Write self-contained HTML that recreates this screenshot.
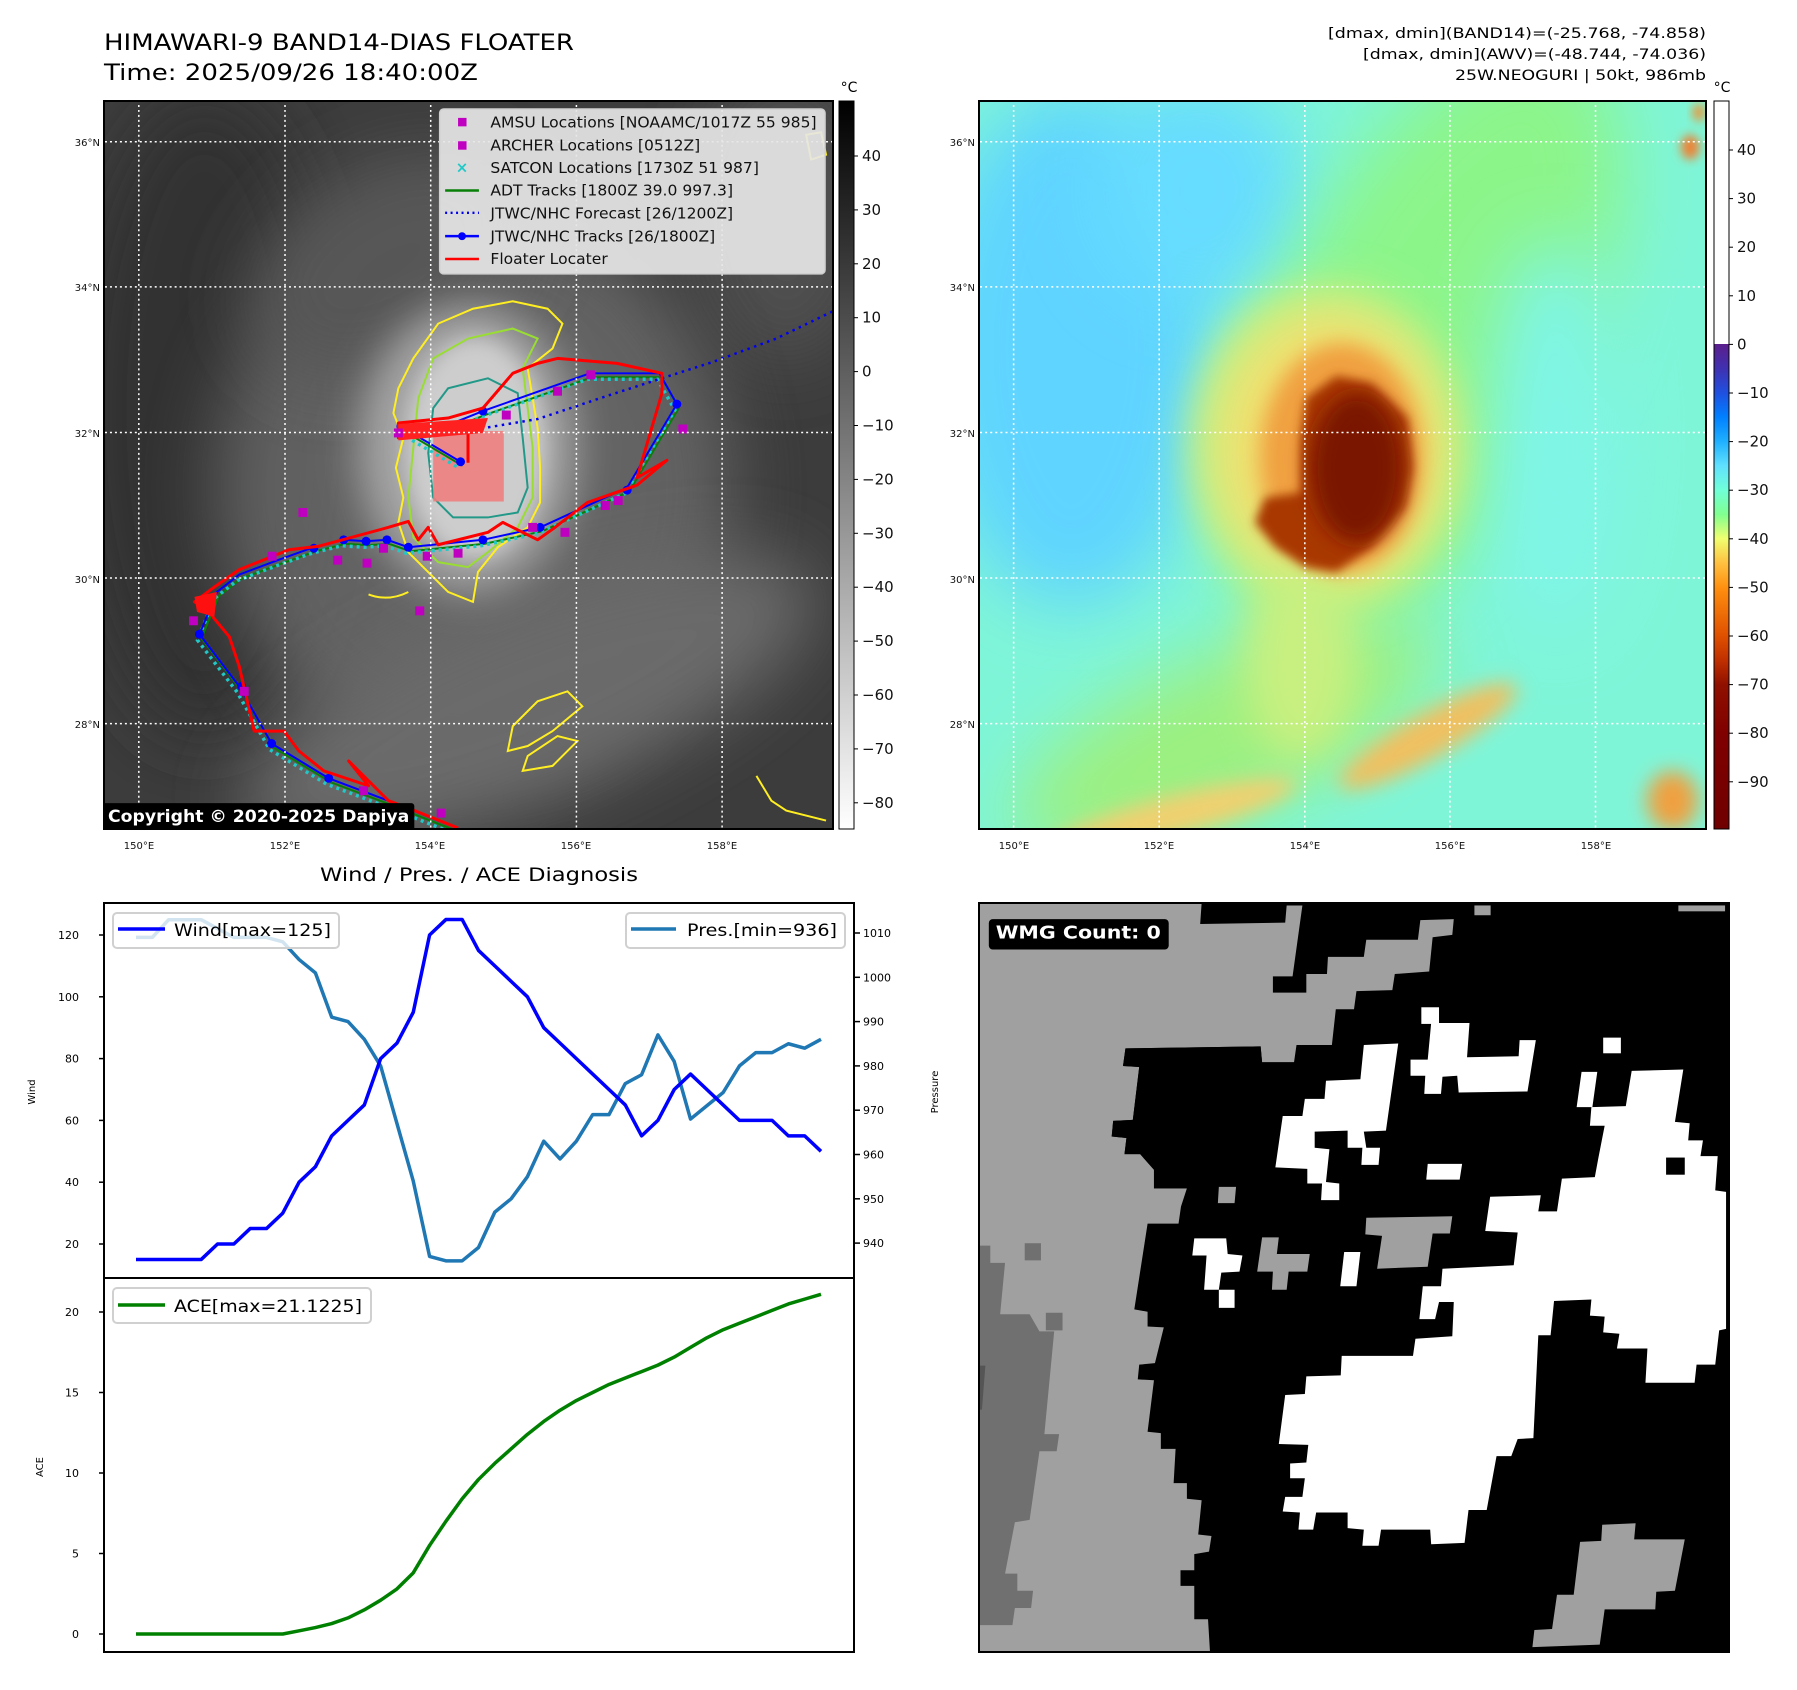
<!DOCTYPE html>
<html><head><meta charset="utf-8">
<style>
html,body{margin:0;padding:0;background:#fff;}
svg{display:block;font-family:"DejaVu Sans","Liberation Sans",sans-serif;}
</style></head>
<body>
<svg id="root" width="1797" height="1690" viewBox="0 0 1797 1690" xmlns="http://www.w3.org/2000/svg">
<defs>
  <filter id="b20" x="-50%" y="-50%" width="200%" height="200%"><feGaussianBlur stdDeviation="20"/></filter>
  <filter id="b40" x="-50%" y="-50%" width="200%" height="200%"><feGaussianBlur stdDeviation="40"/></filter>
  <filter id="b70" x="-50%" y="-50%" width="200%" height="200%"><feGaussianBlur stdDeviation="70"/></filter>
  <filter id="b10" x="-50%" y="-50%" width="200%" height="200%"><feGaussianBlur stdDeviation="10"/></filter>
  <linearGradient id="gcb" x1="0" y1="0" x2="0" y2="1">
    <stop offset="0" stop-color="#000"/><stop offset="1" stop-color="#fff"/>
  </linearGradient>
  <linearGradient id="jcb" x1="0" y1="0" x2="0" y2="1">
    <stop offset="0" stop-color="#fff"/><stop offset="0.334" stop-color="#fff"/>
    <stop offset="0.334" stop-color="#5b1f8c"/><stop offset="0.367" stop-color="#4030b0"/>
    <stop offset="0.401" stop-color="#2050e0"/><stop offset="0.434" stop-color="#0080ff"/>
    <stop offset="0.468" stop-color="#20b0ff"/><stop offset="0.501" stop-color="#60e0ff"/>
    <stop offset="0.534" stop-color="#70ffd8"/><stop offset="0.568" stop-color="#80ff90"/>
    <stop offset="0.601" stop-color="#f0ff70"/><stop offset="0.635" stop-color="#ffc040"/>
    <stop offset="0.668" stop-color="#ff9010"/><stop offset="0.735" stop-color="#e05000"/>
    <stop offset="0.768" stop-color="#c03000"/><stop offset="0.802" stop-color="#901000"/>
    <stop offset="0.868" stop-color="#800000"/><stop offset="1" stop-color="#700000"/>
  </linearGradient>
</defs>

<!-- Titles -->
<text x="104" y="50" font-size="22" textLength="470" lengthAdjust="spacingAndGlyphs">HIMAWARI-9 BAND14-DIAS FLOATER</text>
<text x="104" y="80" font-size="22" textLength="374" lengthAdjust="spacingAndGlyphs">Time: 2025/09/26 18:40:00Z</text>
<text x="1706" y="38" font-size="14" text-anchor="end" textLength="378" lengthAdjust="spacingAndGlyphs">[dmax, dmin](BAND14)=(-25.768, -74.858)</text>
<text x="1706" y="59" font-size="14" text-anchor="end" textLength="343" lengthAdjust="spacingAndGlyphs">[dmax, dmin](AWV)=(-48.744, -74.036)</text>
<text x="1706" y="80" font-size="14" text-anchor="end" textLength="251" lengthAdjust="spacingAndGlyphs">25W.NEOGURI | 50kt, 986mb</text>

<!-- LEFT MAP -->
<svg x="104" y="101" width="729" height="728" viewBox="28 22 1466 1465" preserveAspectRatio="none">
  <rect x="0" y="0" width="1600" height="1600" fill="#3c3c3c"/>
  <ellipse cx="230" cy="650" rx="260" ry="650" fill="#303030" filter="url(#b70)"/>
  <ellipse cx="1400" cy="250" rx="180" ry="300" fill="#505050" filter="url(#b70)"/>
  <ellipse cx="770" cy="800" rx="520" ry="560" fill="#707070" opacity="0.75" filter="url(#b70)"/>
  <ellipse cx="880" cy="1230" rx="620" ry="200" transform="rotate(-22 880 1230)" fill="#6a6a6a" filter="url(#b70)"/>
  <ellipse cx="600" cy="350" rx="300" ry="200" transform="rotate(-30 600 350)" fill="#575757" filter="url(#b70)"/>
  <ellipse cx="760" cy="720" rx="220" ry="290" fill="#a4a4a4" filter="url(#b40)"/>
  <ellipse cx="775" cy="720" rx="140" ry="220" fill="#cdcdcd" filter="url(#b20)"/>
  <!-- contours -->
  <path d="M620,600 L650,540 L700,470 L770,440 L850,425 L920,440 L950,470 L930,520 L880,560 L890,620 L900,680 L905,760 L905,830 L880,880 L820,920 L780,970 L770,1030 L720,1010 L690,980 L640,930 L620,870 L630,820 L615,760 L630,700 L610,650 Z" fill="none" stroke="#ffee22" stroke-width="4"/>
  <path d="M660,620 L690,540 L760,500 L850,480 L900,500 L870,560 L880,640 L890,720 L890,820 L860,880 L800,930 L760,960 L700,950 L650,900 L640,820 L650,720 Z" fill="none" stroke="#99dd33" stroke-width="4"/>
  <path d="M690,640 L720,600 L800,580 L860,610 L870,700 L880,800 L860,850 L800,860 L730,860 L690,820 L680,730 Z" fill="none" stroke="#229988" stroke-width="4"/>
  <g fill="none" stroke="#ffee22" stroke-width="4">
    <path d="M560,1015 Q600,1030 640,1010"/>
    <path d="M850,1280 L900,1230 L960,1210 L990,1240 L930,1290 L880,1320 L840,1330 Z"/>
    <path d="M880,1340 L940,1300 L980,1310 L930,1360 L870,1370 Z"/>
    <path d="M1340,1380 L1370,1430 L1400,1450 L1480,1470"/>
    <path d="M1440,90 L1470,85 L1480,130 L1450,140 Z"/>
  </g>
  <rect x="690" y="686" width="142" height="142" fill="#f08080" opacity="0.9"/>
  <!-- tracks -->
  <polyline points="740,1485 700,1470 600,1430 480,1385 365,1315 300,1200 220,1095 255,1010 300,975 380,945 450,920 510,905 555,908 597,905 640,920 790,905 905,880 1080,800 1180,632 1145,570 1005,570 790,646 715,676 625,677 745,748" fill="none" stroke="#088008" stroke-width="4" transform="translate(4,8)"/>
  <polyline points="740,1485 700,1470 600,1430 480,1385 365,1315 300,1200 220,1095 255,1010 300,975 380,945 450,920 510,905 555,908 597,905 640,920 790,905 905,880 1080,800 1180,632 1145,570 1005,570 790,646 715,676 625,677 745,748" fill="none" stroke="#20c8c8" stroke-width="7" stroke-dasharray="6 8" transform="translate(-4,12)"/>
  <polyline points="745,688 900,662 1050,612 1250,548 1380,500 1494,445" fill="none" stroke="#0000ee" stroke-width="5" stroke-dasharray="5 9"/>
  <polyline points="740,1485 700,1470 600,1430 480,1385 365,1315 300,1200 220,1095 255,1010 300,975 380,945 450,920 510,905 555,908 597,905 640,920 790,905 905,880 1080,800 1180,632 1145,570 1005,570 790,646 715,676 625,677 745,748" fill="none" stroke="#0000ff" stroke-width="4"/>
  <g fill="#0000ff">
    <circle cx="480" cy="1385" r="9"/><circle cx="365" cy="1315" r="9"/><circle cx="305" cy="1200" r="9"/><circle cx="220" cy="1095" r="9"/>
    <circle cx="450" cy="922" r="9"/><circle cx="510" cy="905" r="9"/><circle cx="555" cy="908" r="9"/><circle cx="597" cy="905" r="9"/>
    <circle cx="640" cy="920" r="9"/><circle cx="790" cy="905" r="9"/><circle cx="905" cy="880" r="9"/><circle cx="1080" cy="805" r="9"/>
    <circle cx="1180" cy="632" r="9"/><circle cx="1007" cy="573" r="9"/><circle cx="790" cy="646" r="9"/><circle cx="715" cy="676" r="9"/>
    <circle cx="625" cy="677" r="9"/><circle cx="745" cy="748" r="9"/>
  </g>
  <polyline points="740,1485 640,1445 600,1430 520,1350 560,1400 470,1370 420,1330 390,1290 330,1290 300,1160 280,1100 230,1040 210,1030 250,1000 300,965 400,925 460,918 600,880 640,868 660,905 680,880 700,915 800,890 830,870 900,905 935,880 1000,830 1100,795 1160,745 1100,780 1150,610 1150,570 1060,550 940,540 900,550 850,570 790,640 720,660 620,670 620,700 760,680 760,750" fill="none" stroke="#ff0000" stroke-width="6" stroke-linejoin="round"/>
  <path d="M620,672 L800,660 L790,690 L620,705 Z" fill="#ff2020"/>
  <path d="M210,1020 L255,1010 L250,1060 L215,1050 Z" fill="#ff1010"/>
  <g fill="#c000c0">
    <rect x="419" y="841" width="18" height="18"/><rect x="357" y="929" width="18" height="18"/><rect x="489" y="937" width="18" height="18"/>
    <rect x="548" y="943" width="18" height="18"/><rect x="669" y="929" width="18" height="18"/><rect x="731" y="923" width="18" height="18"/>
    <rect x="654" y="1039" width="18" height="18"/><rect x="199" y="1059" width="18" height="18"/><rect x="828" y="645" width="18" height="18"/>
    <rect x="931" y="597" width="18" height="18"/><rect x="998" y="564" width="18" height="18"/><rect x="1027" y="827" width="18" height="18"/>
    <rect x="1053" y="817" width="18" height="18"/><rect x="1183" y="673" width="18" height="18"/><rect x="611" y="681" width="18" height="18"/>
    <rect x="881" y="871" width="18" height="18"/><rect x="946" y="881" width="18" height="18"/><rect x="301" y="1201" width="18" height="18"/>
    <rect x="541" y="1401" width="18" height="18"/><rect x="697" y="1446" width="18" height="18"/><rect x="581" y="913" width="18" height="18"/>
  </g>
  <!-- grid -->
  <g stroke="#fff" stroke-width="3" stroke-dasharray="4 6">
    <line x1="98" y1="0" x2="98" y2="1600"/><line x1="392" y1="0" x2="392" y2="1600"/><line x1="685" y1="0" x2="685" y2="1600"/>
    <line x1="978" y1="0" x2="978" y2="1600"/><line x1="1271" y1="0" x2="1271" y2="1600"/>
    <line x1="0" y1="104" x2="1600" y2="104"/><line x1="0" y1="396" x2="1600" y2="396"/><line x1="0" y1="689" x2="1600" y2="689"/>
    <line x1="0" y1="982" x2="1600" y2="982"/><line x1="0" y1="1275" x2="1600" y2="1275"/>
  </g>
  <!-- legend -->
  <g>
    <rect x="703" y="38" width="775" height="332" rx="8" fill="#e6e6e6" fill-opacity="0.92" stroke="#cfcfcf" stroke-width="3"/>
    <rect x="740" y="56" width="17" height="17" fill="#c000c0"/>
    <rect x="740" y="103" width="17" height="17" fill="#c000c0"/>
    <text x="748" y="166" font-size="30" fill="#20c8c8" text-anchor="middle" font-weight="bold">×</text>
    <line x1="714" y1="202" x2="782" y2="202" stroke="#088008" stroke-width="5"/>
    <line x1="714" y1="247" x2="782" y2="247" stroke="#0000ee" stroke-width="5" stroke-dasharray="4 7"/>
    <line x1="714" y1="294" x2="782" y2="294" stroke="#0000ff" stroke-width="5"/><circle cx="748" cy="294" r="8" fill="#0000ff"/>
    <line x1="714" y1="340" x2="782" y2="340" stroke="#ff0000" stroke-width="5"/>
    <g font-size="30" fill="#111">
      <text x="805" y="75" textLength="656" lengthAdjust="spacingAndGlyphs">AMSU Locations [NOAAMC/1017Z 55 985]</text>
      <text x="805" y="122" textLength="422" lengthAdjust="spacingAndGlyphs">ARCHER Locations [0512Z]</text>
      <text x="805" y="167" textLength="540" lengthAdjust="spacingAndGlyphs">SATCON Locations [1730Z 51 987]</text>
      <text x="805" y="212" textLength="488" lengthAdjust="spacingAndGlyphs">ADT Tracks [1800Z 39.0 997.3]</text>
      <text x="805" y="258" textLength="488" lengthAdjust="spacingAndGlyphs">JTWC/NHC Forecast [26/1200Z]</text>
      <text x="805" y="305" textLength="452" lengthAdjust="spacingAndGlyphs">JTWC/NHC Tracks [26/1800Z]</text>
      <text x="805" y="350" textLength="236" lengthAdjust="spacingAndGlyphs">Floater Locater</text>
    </g>
  </g>
  <rect x="22" y="1435" width="630" height="56" rx="6" fill="#000"/>
  <text x="36" y="1473" font-size="34" font-weight="bold" fill="#fff" textLength="606" lengthAdjust="spacingAndGlyphs">Copyright © 2020-2025 Dapiya</text>
</svg>
<rect x="104" y="101" width="729" height="728" fill="none" stroke="#000" stroke-width="2"/>

<!-- left colorbar -->
<rect x="839" y="101" width="15" height="728" fill="url(#gcb)" stroke="#000" stroke-width="1"/>
<text x="849" y="92" font-size="14" text-anchor="middle">°C</text>
<g id="lcb" font-size="15" fill="#111"></g>

<!-- RIGHT MAP -->
<svg x="979" y="101" width="727" height="728" viewBox="18 22 1428 1465" preserveAspectRatio="none">
  <rect x="0" y="0" width="1600" height="1600" fill="#7ff5d8"/>
  <ellipse cx="200" cy="520" rx="280" ry="520" fill="#5fd4ff" filter="url(#b70)"/>
  <ellipse cx="450" cy="200" rx="200" ry="220" fill="#66dcff" filter="url(#b70)"/>
  <ellipse cx="900" cy="500" rx="300" ry="650" transform="rotate(25 900 500)" fill="#8cf58a" filter="url(#b70)"/>
  <ellipse cx="500" cy="1300" rx="450" ry="160" transform="rotate(-25 500 1300)" fill="#9cf080" filter="url(#b70)"/>
  <ellipse cx="1150" cy="700" rx="130" ry="400" fill="#7ff5e8" filter="url(#b70)"/>
  <ellipse cx="700" cy="720" rx="270" ry="330" fill="#c8f080" filter="url(#b40)"/>
  <ellipse cx="710" cy="720" rx="220" ry="270" fill="#f0e070" filter="url(#b40)"/>
  <ellipse cx="650" cy="1150" rx="110" ry="200" fill="#c8f080" filter="url(#b40)"/>
  <ellipse cx="900" cy="1300" rx="200" ry="45" transform="rotate(-30 900 1300)" fill="#f0c060" filter="url(#b20)"/>
  <ellipse cx="400" cy="1460" rx="250" ry="40" transform="rotate(-15 400 1460)" fill="#f0d070" filter="url(#b20)"/>
  <ellipse cx="1380" cy="1430" rx="50" ry="60" fill="#f0a040" filter="url(#b20)"/>
  <ellipse cx="730" cy="740" rx="160" ry="230" fill="#f0a040" filter="url(#b20)"/>
  <path d="M660,620 L720,575 L790,590 L860,660 L870,760 L855,840 L790,920 L720,970 L660,960 L600,920 L560,870 L580,820 L650,810 L650,700 Z" fill="#a83800" filter="url(#b10)"/>
  <ellipse cx="760" cy="760" rx="90" ry="150" fill="#7a1800" filter="url(#b20)"/>
  <ellipse cx="1415" cy="115" rx="18" ry="25" fill="#f08030" filter="url(#b10)"/>
  <ellipse cx="1432" cy="45" rx="12" ry="18" fill="#f09030" filter="url(#b10)"/>
  <g stroke="#fff" stroke-width="3" stroke-dasharray="4 6">
    <line x1="86" y1="0" x2="86" y2="1600"/><line x1="372" y1="0" x2="372" y2="1600"/><line x1="658" y1="0" x2="658" y2="1600"/>
    <line x1="943" y1="0" x2="943" y2="1600"/><line x1="1229" y1="0" x2="1229" y2="1600"/>
    <line x1="0" y1="104" x2="1600" y2="104"/><line x1="0" y1="396" x2="1600" y2="396"/><line x1="0" y1="689" x2="1600" y2="689"/>
    <line x1="0" y1="982" x2="1600" y2="982"/><line x1="0" y1="1275" x2="1600" y2="1275"/>
  </g>
</svg>
<rect x="979" y="101" width="727" height="728" fill="none" stroke="#000" stroke-width="2"/>
<rect x="1714" y="101" width="15" height="728" fill="url(#jcb)" stroke="#000" stroke-width="1"/>
<text x="1722" y="92" font-size="14" text-anchor="middle">°C</text>
<g id="rcb" font-size="15" fill="#111"></g>

<g id="maplabels" font-size="10" fill="#111"></g>

<!-- Diagnosis chart -->
<text x="479" y="881" font-size="19" text-anchor="middle" textLength="318" lengthAdjust="spacingAndGlyphs">Wind / Pres. / ACE Diagnosis</text>
<g id="chart"></g>
<rect x="104" y="903" width="750" height="749" fill="none" stroke="#000" stroke-width="2"/>
<line x1="104" y1="1278" x2="854" y2="1278" stroke="#000" stroke-width="2"/>
<text transform="translate(35,1092) rotate(-90)" font-size="10" text-anchor="middle">Wind</text>
<text transform="translate(938,1092) rotate(-90)" font-size="10" text-anchor="middle">Pressure</text>
<text transform="translate(43,1467) rotate(-90)" font-size="10" text-anchor="middle">ACE</text>

<g>
  <rect x="113" y="913" width="226" height="35" rx="4" fill="#fff" fill-opacity="0.8" stroke="#d0d0d0" stroke-width="2"/>
  <line x1="118" y1="929" x2="165" y2="929" stroke="#0000ff" stroke-width="3.5"/>
</g>
<g>
  <rect x="626" y="913" width="219" height="35" rx="4" fill="#fff" fill-opacity="0.8" stroke="#d0d0d0" stroke-width="2"/>
  <line x1="631" y1="929" x2="676" y2="929" stroke="#1f77b4" stroke-width="3.5"/>
  <text x="687" y="936" font-size="17" textLength="150" lengthAdjust="spacingAndGlyphs">Pres.[min=936]</text>
</g>
<g>
  <rect x="113" y="1288" width="258" height="35" rx="4" fill="#fff" fill-opacity="0.8" stroke="#d0d0d0" stroke-width="2"/>
  <line x1="118" y1="1305" x2="165" y2="1305" stroke="#008000" stroke-width="3.5"/>
  <text x="174" y="1312" font-size="17" textLength="188" lengthAdjust="spacingAndGlyphs">ACE[max=21.1225]</text>
</g>

<!-- WMG panel -->
<svg x="979" y="903" width="750" height="749" viewBox="2 5 1526 1530" preserveAspectRatio="none">
  <rect x="0" y="0" width="1600" height="1600" fill="#000"/>
  <polygon fill="#a0a0a0" points="0,5 455,5 452,48 625,45 628,10 660,10 640,155 600,155 600,188 668,188 668,150 710,150 712,115 785,115 790,80 895,80 900,40 968,38 965,70 925,75 918,145 848,150 843,183 770,185 765,222 728,222 720,295 648,295 643,330 578,330 575,298 300,302 295,338 328,340 315,448 275,450 272,482 302,485 298,518 330,518 358,550 358,588 425,588 413,625 408,660 345,660 318,835 345,840 345,870 378,872 360,945 328,948 325,978 358,980 345,1085 372,1088 372,1120 402,1120 398,1190 425,1190 425,1222 455,1225 448,1295 475,1298 470,1330 440,1335 440,1368 412,1368 412,1400 440,1400 440,1468 468,1468 472,1535 0,1535"/>
  <polygon fill="#000" points="300,302 575,298 578,330 532,332 530,372 460,372 428,588 358,588 358,550 330,518 298,518 302,485 272,482 275,450 315,448 328,340 295,338"/>
  <polygon fill="#a0a0a0" points="490,585 525,585 522,618 488,618"/>
  <polygon fill="#707070" points="0,705 25,705 25,740 55,740 45,845 105,845 125,880 155,880 135,1090 165,1090 160,1125 125,1125 105,1265 75,1270 55,1375 80,1375 80,1410 112,1410 108,1445 75,1445 70,1480 0,1480"/>
  <rect x="95" y="700" width="33" height="35" fill="#707070"/>
  <rect x="138" y="842" width="34" height="36" fill="#707070"/>
  <polygon fill="#555" points="0,950 15,950 8,1040 0,1040"/>
  <polygon fill="#a0a0a0" points="790,648 965,645 960,680 925,680 915,748 812,752 822,685 788,682"/>
  <polygon fill="#a0a0a0" points="578,688 612,688 608,722 675,722 670,758 632,758 628,795 598,795 600,758 568,758"/>
  <polygon fill="#a0a0a0" points="1270,1275 1338,1272 1335,1305 1438,1305 1418,1410 1380,1412 1378,1448 1275,1448 1265,1520 1128,1525 1132,1490 1168,1488 1178,1418 1212,1418 1225,1310 1268,1308"/>
  <rect x="1010" y="10" width="33" height="20" fill="#a0a0a0"/>
  <rect x="1425" y="10" width="95" height="12" fill="#a0a0a0"/>
  <g fill="#fff">
    <polygon points="740,930 885,930 890,895 965,890 968,820 938,820 930,855 898,855 905,788 942,788 945,752 1090,745 1098,678 1032,675 1042,605 1145,602 1140,635 1178,635 1188,568 1255,565 1262,527 1275,460 1245,460 1248,422 1318,420 1330,348 1435,345 1418,452 1448,455 1445,490 1475,490 1470,522 1505,522 1500,592 1522,595 1522,875 1508,878 1500,948 1462,948 1458,985 1358,985 1362,915 1300,915 1305,885 1272,882 1275,850 1245,848 1248,815 1172,818 1165,888 1140,888 1130,1098 1098,1100 1085,1135 1055,1135 1035,1245 998,1245 990,1312 922,1315 920,1285 820,1285 815,1318 782,1318 785,1285 752,1282 752,1250 688,1250 682,1285 652,1285 655,1250 620,1248 625,1218 660,1218 665,1180 635,1180 635,1150 668,1148 672,1112 612,1110 625,1010 665,1008 668,972 738,970"/>
    <polygon points="620,440 660,440 665,405 705,405 708,368 778,365 785,295 855,292 830,470 785,472 790,505 818,505 815,540 780,540 782,505 752,505 752,470 685,472 685,505 715,508 708,575 735,578 735,612 698,612 700,578 670,578 670,548 605,545"/>
    <polygon points="880,325 915,325 922,250 1000,250 995,320 1100,318 1102,285 1135,285 1118,390 978,392 975,358 945,360 942,395 908,395 910,358 880,358"/>
    <rect x="902" y="218" width="36" height="34"/>
    <rect x="1272" y="280" width="36" height="32"/>
    <polygon points="1228,350 1260,350 1250,422 1218,422"/>
    <polygon points="915,538 985,538 980,570 912,570"/>
    <polygon points="440,690 505,690 508,722 538,725 532,758 495,760 490,795 460,795 465,725 436,725"/>
    <rect x="490" y="795" width="32" height="37"/>
    <polygon points="745,718 778,718 770,788 737,788"/>
  </g>
  <rect x="1400" y="525" width="38" height="35" fill="#000"/>
  <rect x="22" y="38" width="366" height="62" rx="8" fill="#000"/>
  <text x="36" y="78" font-size="36" font-weight="bold" fill="#fff" textLength="336" lengthAdjust="spacingAndGlyphs">WMG Count: 0</text>
</svg>
<rect x="979" y="903" width="750" height="749" fill="none" stroke="#000" stroke-width="2"/>
</svg>

<script>
// ---- chart data ----
const windValues = [15,15,15,15,15,20,20,25,25,30,40,45,55,60,65,80,85,95,120,125,125,115,110,105,100,90,85,80,75,70,65,55,60,70,75,70,65,60,60,60,55,55,50];
const presValues = [1009,1009,1013,1013,1013,1011,1009,1009,1009,1008,1004,1001,991,990,986,980,967,954,937,936,936,939,947,950,955,963,959,963,969,969,976,978,987,981,968,971,974,980,983,983,985,984,986];
const aceValues = [0,0,0,0,0,0,0,0,0,0,0.2,0.4,0.65,1.0,1.5,2.1,2.8,3.8,5.5,7.0,8.4,9.6,10.6,11.5,12.4,13.2,13.9,14.5,15.0,15.5,15.9,16.3,16.7,17.2,17.8,18.4,18.9,19.3,19.7,20.1,20.5,20.8,21.1];
const windTicks = [20,40,60,80,100,120];
const presTicks = [940,950,960,970,980,990,1000,1010];
const aceTicks = [0,5,10,15,20];
const irCbTicks = [40,30,20,10,0,-10,-20,-30,-40,-50,-60,-70,-80];
const awvCbTicks = [40,30,20,10,0,-10,-20,-30,-40,-50,-60,-70,-80,-90];
const lonLabels = ["150°E","152°E","154°E","156°E","158°E"];
const latLabels = ["36°N","34°N","32°N","30°N","28°N"];

const NS = "http://www.w3.org/2000/svg";
function mk(tag, attrs, parent){const e=document.createElementNS(NS,tag);for(const k in attrs)e.setAttribute(k,attrs[k]);parent.appendChild(e);return e;}
const xIdx = i => 136 + i*(821-136)/(windValues.length-1);
const yWind = v => 935 + (120-v)*3.09;
const yPres = p => 933 + (1010-p)*4.43;
const yAce = a => 1634 - a*16.1;
const fmt = v => String(v).replace("-", "\u2212");

const chart = document.getElementById("chart");
windTicks.forEach(v=>{
  const y=yWind(v);
  const t=mk("line",{x1:99,y1:y,x2:104,y2:y,stroke:"#000","stroke-width":1.5},chart);
  
  
  const l=mk("text",{x:79,y:y+4,"font-size":11,"text-anchor":"end"},chart); l.textContent=v;
  
  
});
presTicks.forEach(v=>{
  const y=yPres(v);
  const t=mk("line",{x1:854,y1:y,x2:860,y2:y,stroke:"#000","stroke-width":1.5},chart);
  
  
  const l=mk("text",{x:863,y:y+4,"font-size":11},chart); l.textContent=v;
  
  
});
aceTicks.forEach(v=>{
  const y=yAce(v);
  const t=mk("line",{x1:99,y1:y,x2:104,y2:y,stroke:"#000","stroke-width":1.5},chart);
  
  
  const l=mk("text",{x:79,y:y+4,"font-size":11,"text-anchor":"end"},chart); l.textContent=v;
  
  
});
const pLine=mk("polyline",{points:presValues.map((p,i)=>xIdx(i)+","+yPres(p)).join(" "),fill:"none",stroke:"#1f77b4","stroke-width":3.5,"stroke-linejoin":"round"},chart);


const wLine=mk("polyline",{points:windValues.map((v,i)=>xIdx(i)+","+yWind(v)).join(" "),fill:"none",stroke:"#0000ff","stroke-width":3.5,"stroke-linejoin":"round"},chart);


const aLine=mk("polyline",{points:aceValues.map((v,i)=>xIdx(i)+","+yAce(v)).join(" "),fill:"none",stroke:"#008000","stroke-width":3.5,"stroke-linejoin":"round"},chart);


const wt=mk("text",{x:174,y:936,"font-size":17,textLength:157,lengthAdjust:"spacingAndGlyphs"},document.getElementById("root"));
wt.textContent="Wind[max=125]";



const lcb=document.getElementById("lcb");
irCbTicks.forEach(v=>{
  const y=156+(40-v)*5.39;
  mk("line",{x1:854,y1:y,x2:858,y2:y,stroke:"#000"},lcb);
  const l=mk("text",{x:862,y:y+5},lcb); l.textContent=fmt(v);
  
  
});
const rcb=document.getElementById("rcb");
awvCbTicks.forEach(v=>{
  const y=150+(40-v)*4.86;
  mk("line",{x1:1729,y1:y,x2:1733,y2:y,stroke:"#000"},rcb);
  const l=mk("text",{x:1737,y:y+5},rcb); l.textContent=fmt(v);
  
  
});
const ml=document.getElementById("maplabels");
const latY=[142,287,433,579,724];
const lonXL=[139,285,430,576,722];
const lonXR=[1014,1159,1305,1450,1596];
latLabels.forEach((s,i)=>{
  [100,975].forEach(x=>{
    const l=mk("text",{x:x,y:latY[i]+4,"text-anchor":"end"},ml); l.textContent=s;
    
    
  });
});
lonLabels.forEach((s,i)=>{
  [lonXL[i],lonXR[i]].forEach(x=>{
    const l=mk("text",{x:x,y:849,"text-anchor":"middle"},ml); l.textContent=s;
    
    
  });
});
</script>
</body></html>
